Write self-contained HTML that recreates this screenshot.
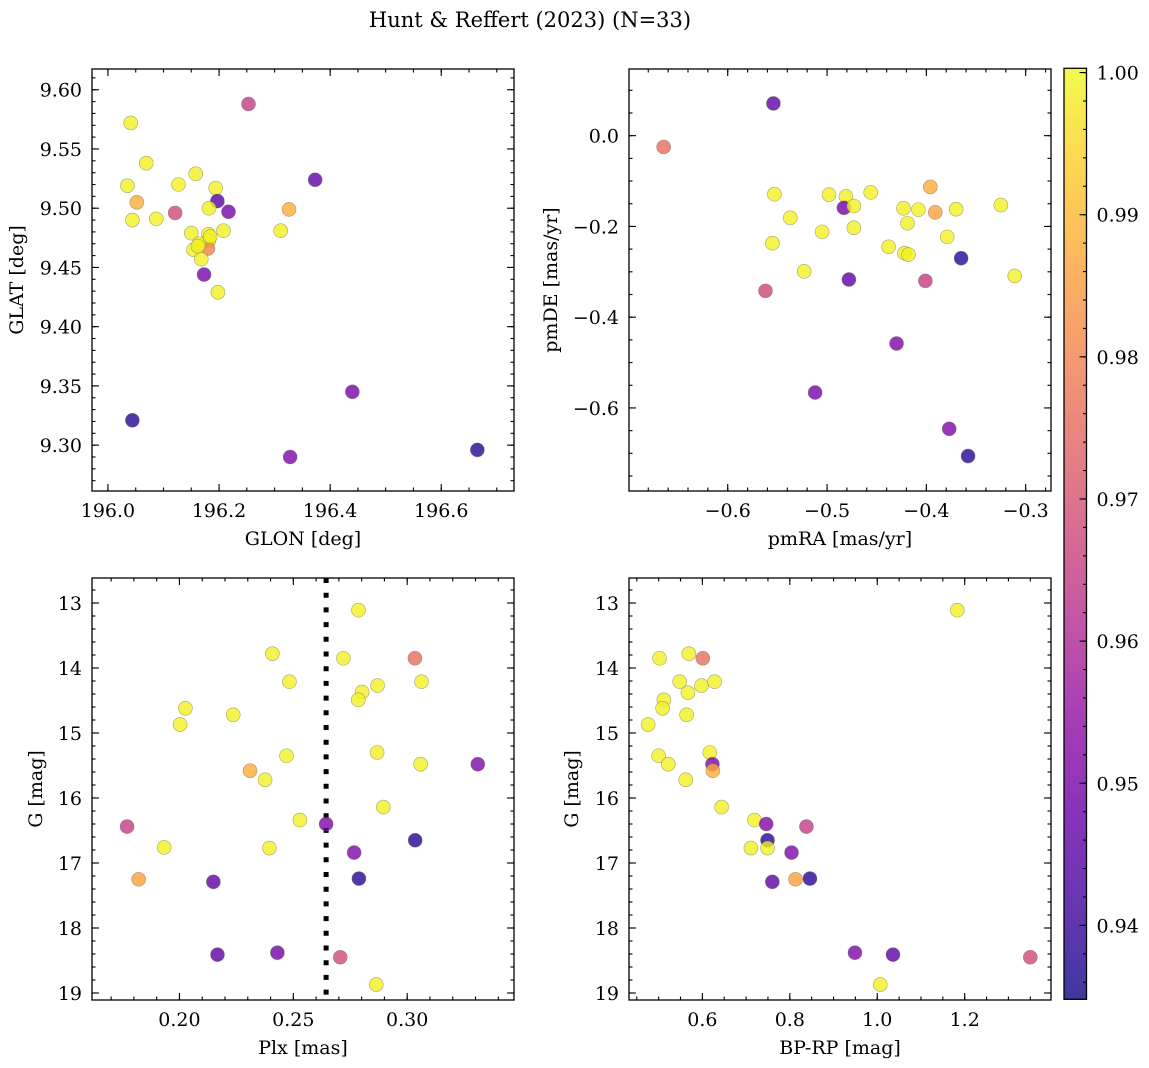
<!DOCTYPE html>
<html><head><meta charset="utf-8"><style>
html,body{margin:0;padding:0;background:#fff;}
svg{display:block;font-family:"DejaVu Serif","Liberation Serif",serif;}
</style></head><body>
<svg id="fig" width="1149" height="1068" viewBox="0 0 1149 1068" xmlns="http://www.w3.org/2000/svg">
<defs>
<linearGradient id="plasma" x1="0" y1="1" x2="0" y2="0">
<stop offset="0" stop-color="#0d0887"/><stop offset="0.1" stop-color="#41049d"/><stop offset="0.2" stop-color="#6a00a8"/><stop offset="0.3" stop-color="#8f0da4"/><stop offset="0.4" stop-color="#b12a90"/><stop offset="0.5" stop-color="#cc4778"/><stop offset="0.6" stop-color="#e16462"/><stop offset="0.7" stop-color="#f2844b"/><stop offset="0.8" stop-color="#fca636"/><stop offset="0.9" stop-color="#fcce25"/><stop offset="1" stop-color="#f0f921"/>
</linearGradient>
</defs>
<text x="530" y="27" text-anchor="middle" font-size="21">Hunt &amp; Reffert (2023) (N=33)</text>
</svg>
<script>
// Panel 1: GLON vs GLAT
const glon = [196.041,196.069,196.035,196.052,196.044,196.087,196.121,196.127,196.158,196.194,196.197,196.182,196.217,196.208,196.150,196.181,196.182,196.180,196.154,196.164,196.168,196.173,196.198,196.253,196.373,196.326,196.311,196.440,196.044,196.328,196.665,196.184,196.162];
const glat = [9.572,9.538,9.519,9.505,9.490,9.491,9.496,9.520,9.529,9.517,9.506,9.500,9.497,9.481,9.479,9.478,9.473,9.466,9.465,9.470,9.457,9.444,9.429,9.588,9.524,9.499,9.481,9.345,9.321,9.290,9.296,9.476,9.468];
const prob1 = [0.999,0.999,0.999,0.988,0.999,0.999,0.968,0.999,0.999,0.999,0.944,0.999,0.950,0.999,0.999,0.999,0.999,0.980,0.999,0.999,0.999,0.950,0.999,0.965,0.946,0.988,0.999,0.950,0.938,0.951,0.938,0.999,0.999];
// Panel 2: pmRA vs pmDE
const pmra = [-0.6645,-0.554,-0.553,-0.498,-0.481,-0.483,-0.473,-0.456,-0.537,-0.505,-0.473,-0.555,-0.523,-0.562,-0.478,-0.438,-0.423,-0.408,-0.419,-0.422,-0.418,-0.396,-0.391,-0.370,-0.379,-0.325,-0.365,-0.311,-0.401,-0.430,-0.512,-0.377,-0.358];
const pmde = [-0.025,0.071,-0.129,-0.130,-0.134,-0.159,-0.155,-0.125,-0.181,-0.212,-0.203,-0.237,-0.299,-0.342,-0.317,-0.245,-0.160,-0.163,-0.193,-0.259,-0.262,-0.113,-0.169,-0.162,-0.223,-0.153,-0.270,-0.309,-0.320,-0.458,-0.566,-0.646,-0.706];
const prob2 = [0.976,0.946,0.999,0.999,0.999,0.949,0.999,0.999,0.999,0.999,0.999,0.999,0.999,0.967,0.946,0.999,0.999,0.999,0.999,0.999,0.999,0.988,0.986,0.999,0.999,0.999,0.938,0.999,0.965,0.951,0.950,0.951,0.938];
// Panel 3: Plx vs G
const plx = [0.2786,0.2408,0.2720,0.3034,0.2483,0.2870,0.3063,0.2802,0.2785,0.2026,0.2003,0.2236,0.2470,0.2310,0.2376,0.2868,0.3059,0.3310,0.2895,0.2529,0.1770,0.2644,0.3035,0.1933,0.2395,0.2767,0.1821,0.2149,0.2788,0.2167,0.2430,0.2706,0.2864];
const gmag3 = [13.11,13.78,13.85,13.85,14.21,14.27,14.21,14.37,14.49,14.62,14.87,14.72,15.35,15.58,15.72,15.30,15.48,15.48,16.14,16.34,16.44,16.40,16.65,16.76,16.77,16.84,17.25,17.29,17.24,18.41,18.38,18.45,18.87];
const prob3 = [0.999,0.999,0.999,0.976,0.999,0.999,0.999,0.999,0.999,0.999,0.999,0.999,0.999,0.988,0.999,0.999,0.999,0.951,0.999,0.999,0.965,0.951,0.938,0.999,0.999,0.951,0.986,0.946,0.938,0.946,0.949,0.968,0.999];
const plxLine = [0.2644];
// Panel 4: BP-RP vs G
const bprp = [1.183,0.502,0.569,0.601,0.548,0.598,0.628,0.567,0.512,0.509,0.564,0.476,0.500,0.522,0.617,0.623,0.624,0.562,0.644,0.719,0.746,0.838,0.749,0.711,0.749,0.804,0.760,0.813,0.846,0.949,1.036,1.350,1.007];
const gmag4 = [13.11,13.85,13.78,13.85,14.21,14.27,14.21,14.38,14.49,14.62,14.72,14.87,15.35,15.48,15.30,15.48,15.58,15.72,16.14,16.34,16.40,16.44,16.65,16.77,16.77,16.84,17.29,17.25,17.24,18.38,18.41,18.45,18.87];
const prob4 = [0.999,0.999,0.999,0.976,0.999,0.999,0.999,0.999,0.999,0.999,0.999,0.999,0.999,0.999,0.999,0.951,0.988,0.999,0.999,0.999,0.951,0.965,0.938,0.999,0.999,0.951,0.946,0.986,0.938,0.951,0.946,0.968,0.999];
// Tick labels
const ticks1x = [196.0,196.2,196.4,196.6];
const ticks1y = [9.30,9.35,9.40,9.45,9.50,9.55,9.60];
const ticks2x = [-0.6,-0.5,-0.4,-0.3];
const ticks2y = [-0.6,-0.4,-0.2,0.0];
const ticks3x = [0.20,0.25,0.30];
const ticksG = [13,14,15,16,17,18,19];
const ticks4x = [0.6,0.8,1.0,1.2];
const cbTicks = [0.94,0.95,0.96,0.97,0.98,0.99,1.00];

const FS=19;
const NS="http://www.w3.org/2000/svg";
const svg=document.getElementById('fig');
function mk(tag,attrs,parent){const e=document.createElementNS(NS,tag);for(const k in attrs)e.setAttribute(k,attrs[k]);(parent||svg).appendChild(e);return e;}
const stops=[[0,[13,8,135]],[0.1,[65,4,157]],[0.2,[106,0,168]],[0.3,[143,13,164]],[0.4,[177,42,144]],[0.5,[204,71,120]],[0.6,[225,100,98]],[0.7,[242,132,75]],[0.8,[252,166,54]],[0.9,[252,206,37]],[1,[240,249,33]]];
const VMIN=0.9348,VMAX=1.0003;
function cmap(v){let t=(v-VMIN)/(VMAX-VMIN);t=Math.max(0,Math.min(1,t));for(let i=1;i<stops.length;i++){if(t<=stops[i][0]){const a=stops[i-1],b=stops[i];const f=(t-a[0])/(b[0]-a[0]);const c=a[1].map((x,j)=>Math.round(x+(b[1][j]-x)*f));return `rgb(${c[0]},${c[1]},${c[2]})`;}}return 'rgb(240,249,33)';}

function panel(cfg){
  const {L,T,W,H,xmin,xmax,ymin,ymax,invert,xt,yt,xminor,yminor,fmtx,fmty,xlabel,ylabel,ylabX,name}=cfg;
  const g=mk('g',{});
  
  
  const sx=v=>L+(v-xmin)/(xmax-xmin)*W;
  const sy=v=>invert? T+(v-ymin)/(ymax-ymin)*H : T+H-(v-ymin)/(ymax-ymin)*H;
  const ticks=mk('g',{stroke:'#000','stroke-width':1.1},g);
  
  
  const addX=(v,len)=>{const x=sx(v);if(x<L-0.5||x>L+W+0.5)return;mk('line',{x1:x,x2:x,y1:T+H,y2:T+H-len},ticks);mk('line',{x1:x,x2:x,y1:T,y2:T+len},ticks);};
  const addY=(v,len)=>{const y=sy(v);if(y<T-0.5||y>T+H+0.5)return;mk('line',{x1:L,x2:L+len,y1:y,y2:y},ticks);mk('line',{x1:L+W,x2:L+W-len,y1:y,y2:y},ticks);};
  const lo=Math.min(xmin,xmax),hi=Math.max(xmin,xmax);
  for(let k=Math.ceil(lo/xminor-1e-6);k*xminor<=hi+1e-9;k++)addX(k*xminor,3.5);
  const ylo=Math.min(ymin,ymax),yhi=Math.max(ymin,ymax);
  for(let k=Math.ceil(ylo/yminor-1e-6);k*yminor<=yhi+1e-9;k++)addY(k*yminor,3.5);
  xt.forEach(v=>{addX(v,7);const t=mk('text',{x:sx(v),y:T+H+26,'text-anchor':'middle','font-size':FS},g);t.textContent=fmtx(v);});
  yt.forEach(v=>{addY(v,7);const t=mk('text',{x:L-10,y:sy(v)+7,'text-anchor':'end','font-size':FS},g);t.textContent=fmty(v);});
  const xl=mk('text',{x:L+W/2,y:T+H+54,'text-anchor':'middle','font-size':FS},g);xl.textContent=xlabel;
  
  
  const yl=mk('text',{x:ylabX,y:T+H/2,'text-anchor':'middle','font-size':FS,transform:`rotate(-90 ${ylabX} ${T+H/2})`},g);yl.textContent=ylabel;
  
  
  const fr=mk('rect',{x:L,y:T,width:W,height:H,fill:'none',stroke:'#000','stroke-width':1.3},g);
  
  
  return {g,sx,sy};
}
function scatter(p,xs,ys,ps){
  xs.forEach((v,i)=>{const c=mk('circle',{cx:p.sx(v),cy:p.sy(ys[i]),r:7,fill:cmap(ps[i]),'fill-opacity':0.8,stroke:'rgba(110,110,90,0.6)','stroke-width':0.6},p.g);
  
  });
}
const f2=v=>v.toFixed(2), f1=v=>v.toFixed(1).replace('-','\u2212'), f0=v=>v.toFixed(0);
const p1=panel({name:'glon-glat-panel',L:92,T:69,W:422,H:422,xmin:195.9713,xmax:196.7310,ymin:9.2613,ymax:9.6175,xt:ticks1x,yt:ticks1y,xminor:0.05,yminor:0.01,fmtx:f1,fmty:f2,xlabel:'GLON [deg]',ylabel:'GLAT [deg]',ylabX:23});
scatter(p1,glon,glat,prob1);
const p2=panel({name:'pm-panel',L:629,T:69,W:422,H:422,xmin:-0.6994,xmax:-0.2745,ymin:-0.7830,ymax:0.1469,xt:ticks2x,yt:ticks2y,xminor:0.02,yminor:0.05,fmtx:f1,fmty:f1,xlabel:'pmRA [mas/yr]',ylabel:'pmDE [mas/yr]',ylabX:557});
scatter(p2,pmra,pmde,prob2);
const p3=panel({name:'plx-g-panel',L:92,T:578,W:422,H:422,xmin:0.1616,xmax:0.3469,ymin:12.6154,ymax:19.1077,invert:true,xt:ticks3x,yt:ticksG,xminor:0.01,yminor:0.2,fmtx:f2,fmty:f0,xlabel:'Plx [mas]',ylabel:'G [mag]',ylabX:42});
const lx=p3.sx(plxLine[0]);
const dl=mk('line',{x1:lx,x2:lx,y1:578,y2:1000,stroke:'#000','stroke-width':5,'stroke-dasharray':'5 9.7'},p3.g);


scatter(p3,plx,gmag3,prob3);
const p4=panel({name:'cmd-panel',L:629,T:578,W:422,H:422,xmin:0.4322,xmax:1.3974,ymin:12.6154,ymax:19.1077,invert:true,xt:ticks4x,yt:ticksG,xminor:0.05,yminor:0.2,fmtx:f1,fmty:f0,xlabel:'BP-RP [mag]',ylabel:'G [mag]',ylabX:578});
scatter(p4,bprp,gmag4,prob4);
// colorbar
const cb=mk('g',{});


const CT=68.3,CB=999.3,CL=1064,CR=1086.5;
const cy=v=>CB-(v-VMIN)/(VMAX-VMIN)*(CB-CT);
mk('rect',{x:CL,y:CT,width:CR-CL,height:CB-CT,fill:'url(#plasma)','fill-opacity':0.8},cb);
for(let k=Math.ceil(VMIN/0.002);k*0.002<=VMAX;k++){const y=cy(k*0.002);mk('line',{x1:CR,x2:CR-3.5,y1:y,y2:y,stroke:'#000','stroke-width':1.1},cb);}
cbTicks.forEach(v=>{const y=cy(v);mk('line',{x1:CR,x2:CR-7,y1:y,y2:y,stroke:'#000','stroke-width':1.1},cb);const t=mk('text',{x:CR+10,y:y+7,'font-size':FS},cb);t.textContent=v.toFixed(2);});
mk('rect',{x:CL,y:CT,width:CR-CL,height:CB-CT,fill:'none',stroke:'#000','stroke-width':1.3},cb);
</script>
</body></html>
